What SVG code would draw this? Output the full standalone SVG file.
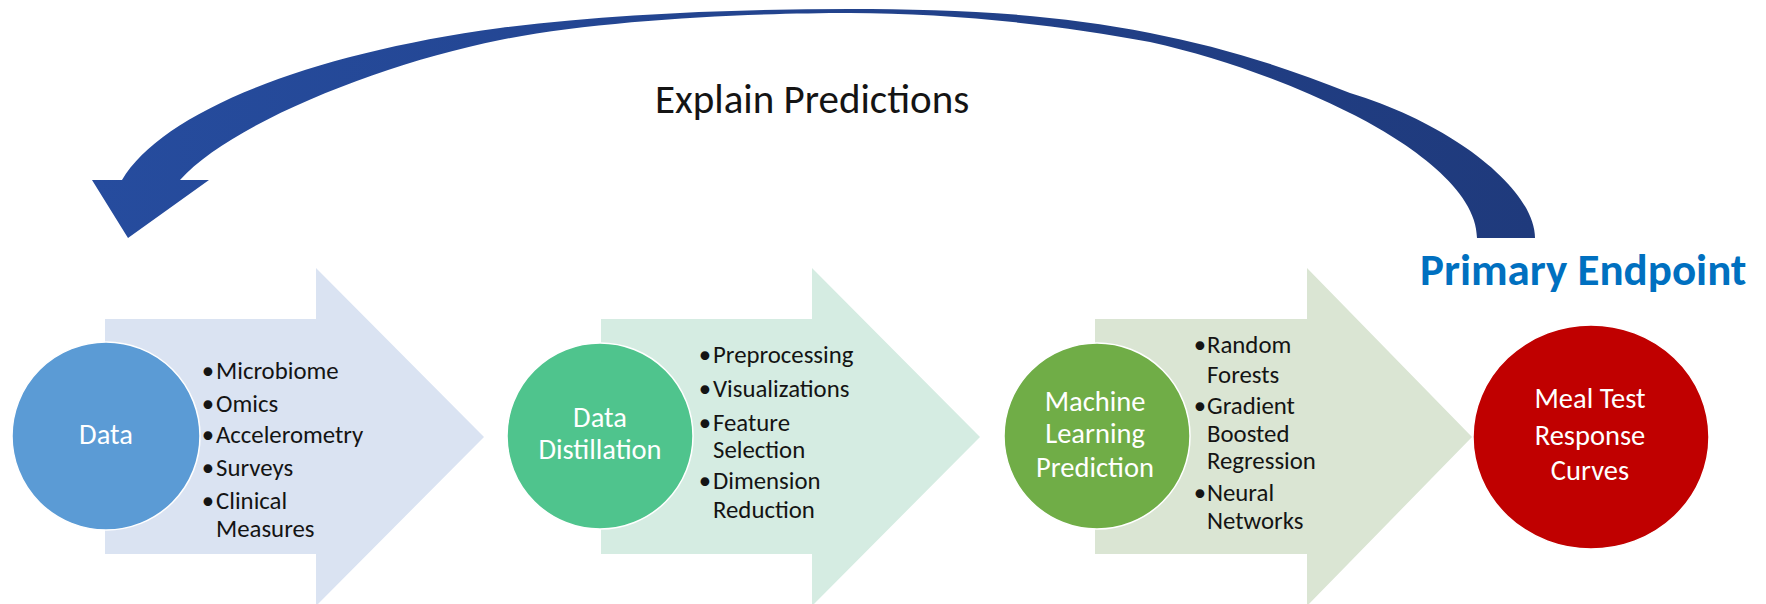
<svg xmlns="http://www.w3.org/2000/svg" width="1766" height="604" viewBox="0 0 1766 604">
  <defs>
    <linearGradient id="loopFill" x1="0" y1="0" x2="1" y2="0">
      <stop offset="0" stop-color="#264C9E"/>
      <stop offset="1" stop-color="#1F3A7C"/>
    </linearGradient>
  </defs>
  <style>
    text { font-family: Carlito, "Open Sans", "Noto Sans", sans-serif; }
    .hub { stroke: #ffffff; stroke-width: 1.5; }
    .hub-label { fill: #ffffff; font-size: 28.5px; text-anchor: middle; }
    .item { fill: #141414; font-size: 24.8px; }
    .dot { fill: #141414; font-size: 24.8px; text-anchor: middle; }
    .title { fill: #141414; font-size: 41px; }
    .endpoint { fill: #0070C0; font-size: 45px; font-weight: bold; }
  </style>

  <rect width="1766" height="604" fill="#ffffff"/>

  <!-- feedback loop from the endpoint back to the data -->
  <g id="connectors">
    <path fill="url(#loopFill)" d="M1535,238 C1535,190 1455,125 1350,93 C1283,66 1217,46 1150,33 C1050,13 950,9 850,9 C733,9 610,14 500,28 C300,55 160,115 122,180 L92,180 L128,238 L209,180 L180,180 C230,124 380,64 500,40 C600,20 750,13 850,13 C950,13 1060,25 1150,42 C1217,57 1283,80 1350,113 C1410,143 1477,190 1477,238 Z"/>
  </g>

  <g id="label-explain">
    <text class="title" x="655" y="113">Explain Predictions</text>
  </g>

  <g id="label-primary">
    <text class="endpoint" x="1420" y="285">Primary Endpoint</text>
  </g>

  <!-- stage 1 -->
  <g id="node-data">
    <path fill="#DAE3F2" d="M105,319 H316 V268 L484,437 L316,606 V554 H105 Z"/>
    <circle class="hub" cx="106" cy="436" r="94" fill="#5B9BD5"/>
    <text class="hub-label" x="106" y="444">Data</text>
    <text class="dot" x="208" y="379">•</text><text class="item" x="216" y="379">Microbiome</text>
    <text class="dot" x="208" y="412">•</text><text class="item" x="216" y="412">Omics</text>
    <text class="dot" x="208" y="443">•</text><text class="item" x="216" y="443">Accelerometry</text>
    <text class="dot" x="208" y="476">•</text><text class="item" x="216" y="476">Surveys</text>
    <text class="dot" x="208" y="509">•</text><text class="item" x="216" y="509">Clinical<tspan x="216" y="537">Measures</tspan></text>
  </g>

  <!-- stage 2 -->
  <g id="node-distill">
    <path fill="#D5ECE2" d="M601,319 H812 V268 L980,437 L812,606 V554 H601 Z"/>
    <circle class="hub" cx="600" cy="436" r="93" fill="#4FC48D"/>
    <text class="hub-label" x="600" y="427">Data</text>
    <text class="hub-label" x="600" y="459">Distillation</text>
    <text class="dot" x="705" y="363">•</text><text class="item" x="713" y="363">Preprocessing</text>
    <text class="dot" x="705" y="397">•</text><text class="item" x="713" y="397">Visualizations</text>
    <text class="dot" x="705" y="431">•</text><text class="item" x="713" y="431">Feature<tspan x="713" y="458">Selection</tspan></text>
    <text class="dot" x="705" y="489">•</text><text class="item" x="713" y="489">Dimension<tspan x="713" y="518">Reduction</tspan></text>
  </g>

  <!-- stage 3 -->
  <g id="node-ml">
    <path fill="#DAE5D3" d="M1095,319 H1307 V268 L1472,437 L1307,606 V554 H1095 Z"/>
    <circle class="hub" cx="1097" cy="436" r="93" fill="#70AD47"/>
    <text class="hub-label" x="1095" y="411">Machine</text>
    <text class="hub-label" x="1095" y="443">Learning</text>
    <text class="hub-label" x="1095" y="477">Prediction</text>
    <text class="dot" x="1200" y="353">•</text><text class="item" x="1207" y="353">Random<tspan x="1207" y="383">Forests</tspan></text>
    <text class="dot" x="1200" y="414">•</text><text class="item" x="1207" y="414">Gradient<tspan x="1207" y="442">Boosted</tspan><tspan x="1207" y="469">Regression</tspan></text>
    <text class="dot" x="1200" y="501">•</text><text class="item" x="1207" y="501">Neural<tspan x="1207" y="529">Networks</tspan></text>
  </g>

  <!-- outcome -->
  <g id="node-meal">
    <ellipse class="hub" cx="1591" cy="437" rx="118" ry="112" fill="#C00000"/>
    <text class="hub-label" x="1590" y="408">Meal Test</text>
    <text class="hub-label" x="1590" y="445">Response</text>
    <text class="hub-label" x="1590" y="480">Curves</text>
  </g>
</svg>
